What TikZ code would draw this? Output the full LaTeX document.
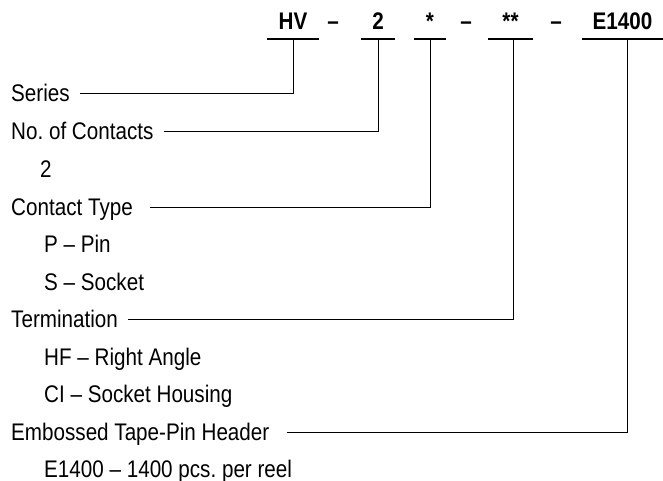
\documentclass[tikz,border=0pt]{standalone}
\usepackage{fontspec}
\setmainfont{Liberation Sans}[FakeStretch=0.86]
\frenchspacing
\newcommand\legendsize{\fontsize{24}{28}\selectfont}
\tikzset{
  item/.style={anchor=base west, inner sep=0pt, text height=16pt, text depth=0pt},
  part/.style={anchor=base, inner sep=0pt, text depth=9pt, font=\legendsize\bfseries},
  uline/.style={line width=2.2pt},
  link/.style={line width=1pt, shorten <=10pt},
}
\begin{document}
\begin{tikzpicture}[x=1pt, y=-1pt, font=\legendsize]
  \useasboundingbox (0,0) rectangle (663,481);
  % part number
  \node[part, minimum width=52pt] (hv) at (293, 30) {HV};
  \node[part] (d1) at (333, 30) {--};
  \node[part, minimum width=34pt] (two) at (378, 30) {2};
  \node[part, minimum width=32pt] (star) at (430, 30) {*};
  \node[part] (d2) at (466, 30) {--};
  \node[part, minimum width=45pt] (stars) at (510.5, 30) {**};
  \node[part] (d3) at (556, 30) {--};
  \node[part, minimum width=81pt] (reel) at (622.5, 30) {E1400};
  \foreach \n in {hv, two, star, stars, reel}
    \draw[uline] (\n.south west) -- (\n.south east);

  % legend
  \node[item] (ser) at (11, 102) {Series};
  \node[item] (noc) at (11, 140) {No. of Contacts};
  \node[item] (noc2) at (40, 177) {2};
  \node[item] (ct) at (11, 215) {Contact Type};
  \node[item] (ctp) at (44, 252) {P -- Pin};
  \node[item] (cts) at (44, 290) {S -- Socket};
  \node[item] (trm) at (11, 327) {Termination};
  \node[item] (trmhf) at (44, 365) {HF -- Right Angle};
  \node[item] (trmci) at (44, 402) {CI -- Socket Housing};
  \node[item] (tape) at (11, 440) {Embossed Tape-Pin Header};
  \node[item] (tape1) at (44, 477) {E1400 -- 1400 pcs. per reel};

  % leaders
  \draw[link] (ser.east) -| (hv.south);
  \draw[link] (noc.east) -| (two.south);
  \draw[link, shorten <=17pt] (ct.east) -| (star.south);
  \draw[link] (trm.east) -| ([xshift=2.5pt]stars.south);
  \draw[link, shorten <=17pt] (tape.east) -| ([xshift=4.5pt]reel.south);
\end{tikzpicture}
\end{document}
